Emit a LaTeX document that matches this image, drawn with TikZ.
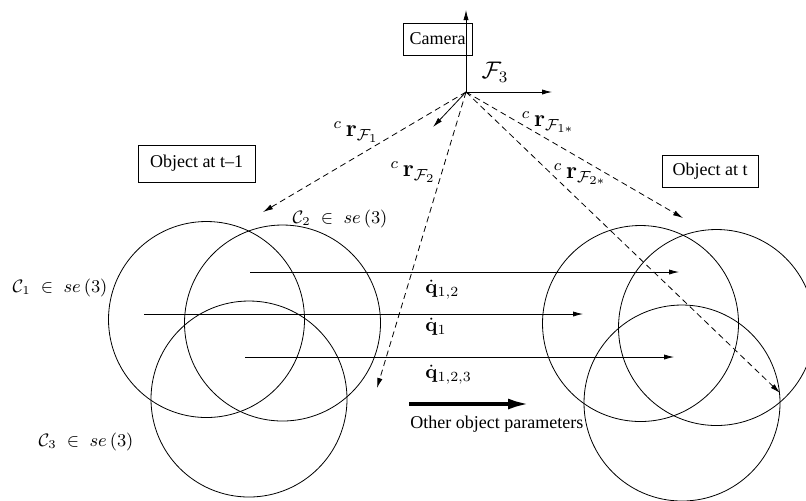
\documentclass[tikz,border=0pt]{standalone}
\usepackage[no-math]{fontspec}
\setmainfont{Liberation Serif}
\usetikzlibrary{arrows.meta}
\tikzset{
  thinarrow/.style={-{Latex[length=5pt,width=2.6pt]},line width=0.4pt},
  rayarrow/.style={thinarrow,dash pattern=on 3pt off 2pt},
  tagbox/.style={draw,line width=0.4pt,inner sep=0pt,minimum height=16pt},
  ring/.style={circle,draw,line width=0.4pt,minimum size=98pt,inner sep=0pt},
  bigmath/.style={font=\large}
}
\newcommand{\camray}[1]{${}^{c}\,\mathbf{r}_{\mathcal{F}_{#1}}$}
\newcommand{\frameset}[1]{$\mathcal{C}_{#1}\;\in\;se\,(3)$}

\begin{document}
\begin{tikzpicture}[x=0.5pt,y=-0.5pt,font=\small]
  \useasboundingbox (0,0) rectangle (806,500);
  % boxes
  \node[tagbox,minimum width=34.5pt] (camera) at (437.5,39) {Camera};
  \node[tagbox,minimum width=58.5pt,minimum height=18.5pt] (objprev) at (196.5,163.5) {Object at t\textendash1};
  \node[tagbox,minimum width=48pt] (objnow) at (710,171) {Object at t};
  % camera frame
  \coordinate (cam) at (466,92);
  \coordinate (camz) at (466,10);
  \coordinate (camx) at (552,92);
  \coordinate (camy) at (433,127);
  \draw[thinarrow] (cam) -- (camz);
  \draw[thinarrow] (cam) -- (camx);
  \draw[thinarrow] (cam) -- (camy);
  \node[bigmath] (fthree) at (495,72) {$\mathcal{F}_3$};
  % circles at t-1 and t
  \node[ring] (cone) at (206.5,319.5) {};
  \node[ring] (ctwo) at (282.5,323) {};
  \node[ring] (cthree) at (249,399) {};
  \node[ring] (done) at (640.5,323.5) {};
  \node[ring] (dtwo) at (716.5,327.5) {};
  \node[ring] (dthree) at (682,403) {};
  \node (lone) at (60,288) {\frameset{1}};
  \node (ltwo) at (340,219) {\frameset{2}};
  \node (lthree) at (86,442) {\frameset{3}};
  % rays from the camera
  \coordinate (rone) at (263,212);
  \coordinate (rtwo) at (377,388);
  \coordinate (ronestar) at (683,218);
  \coordinate (rtwostar) at (780,393);
  \draw[rayarrow] (cam) -- (rone);
  \draw[rayarrow] (cam) -- (rtwo);
  \draw[rayarrow] (cam) -- (ronestar);
  \draw[rayarrow] (cam) -- (rtwostar);
  \node[bigmath] (tone) at (356,132) {\camray{1}};
  \node[bigmath] (ttwo) at (413,172) {\camray{2}};
  \node[bigmath] (tonestar) at (548,122) {\camray{1*}};
  \node[bigmath] (ttwostar) at (580,174) {\camray{2*}};
  % velocities
  \coordinate (qa) at (250,272);
  \coordinate (qb) at (679,272);
  \coordinate (qc) at (144,314);
  \coordinate (qd) at (583,314);
  \coordinate (qe) at (245,357);
  \coordinate (qf) at (674,357);
  \draw[thinarrow] (qa) -- (qb);
  \draw[thinarrow] (qc) -- (qd);
  \draw[thinarrow] (qe) -- (qf);
  \node[anchor=west,inner sep=0pt,font=\normalsize] (vab) at (425,290) {$\dot{\mathbf{q}}_{1,2}$};
  \node[anchor=west,inner sep=0pt,font=\normalsize] (va) at (425,327) {$\dot{\mathbf{q}}_{1}$};
  \node[anchor=west,inner sep=0pt,font=\normalsize] (vabc) at (425,375) {$\dot{\mathbf{q}}_{1,2,3}$};
  % other parameters
  \coordinate (pa) at (409,404);
  \coordinate (pb) at (530,404);
  \draw[-{Latex[length=11pt,width=5.5pt]},line width=2pt] (pa) -- (pb);
  \node[anchor=west,inner sep=0pt] (params) at (410,424) {Other object parameters};
\end{tikzpicture}
\end{document}
